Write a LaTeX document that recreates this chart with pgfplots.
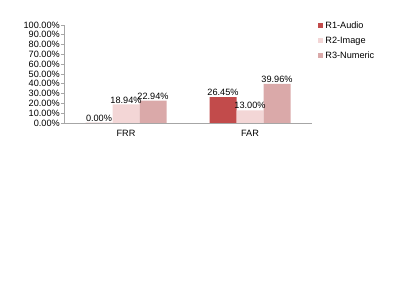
\documentclass[border=0pt]{standalone}
\usepackage{pgfplots}
\pgfplotsset{compat=1.18}
\usepackage{fontspec}
\setmainfont{Liberation Sans}
\definecolor{rA}{HTML}{C24B4B}
\definecolor{rB}{HTML}{F3D6D6}
\definecolor{rC}{HTML}{DAA9A9}
\definecolor{axgray}{HTML}{A6A6A6}
\begin{document}
\begin{tikzpicture}
\path[use as bounding box] (0,0) rectangle (399bp,308bp);
\begin{axis}[
  at={(64bp,185bp)}, anchor=south west,
  scale only axis, width=248bp, height=98bp,
  ybar=0pt, bar width=27bp,
  xmin=-0.5, xmax=1.5, ymin=0, ymax=100,
  axis x line*=bottom, axis y line*=left,
  axis line style={axgray, line width=0.6pt},
  xtick={0,1}, xticklabels={FRR,FAR},
  x tick style={draw=none},
  extra x ticks={-0.5,0.5,1.5}, extra x tick labels={},
  extra x tick style={tick style={draw=axgray, line width=0.6pt}, major tick length=3bp, tick align=outside},
  ytick={0,10,...,100},
  y tick style={draw=axgray, line width=0.6pt}, major tick length=3bp, tick align=outside,
  yticklabel={\pgfmathprintnumber[fixed,fixed zerofill,precision=2]{\tick}\%},
  /pgf/number format/assume math mode=true,
  ticklabel style={font=\fontsize{9.2}{10}\selectfont, text=black},
  yticklabel style={xshift=0bp, inner sep=1bp},
  xticklabel style={yshift=-1bp},
  nodes near coords={\pgfmathprintnumber[fixed,fixed zerofill,precision=2]{\pgfplotspointmeta}\%},
  every node near coord/.append style={font=\fontsize{9.2}{10}\selectfont, text=black, inner sep=1bp},
  legend style={at={(1.025,1.055)}, anchor=north west, draw=none, fill=none,
    font=\fontsize{9.2}{10}\selectfont, row sep=2.8bp, inner sep=0pt},
  legend cell align=left,
  legend image code/.code={\fill[#1] (0bp,-2.5bp) rectangle (5bp,2.5bp);},
]
\addplot[fill=rA, draw=none] coordinates {(0,0) (1,26.45)};
\addplot[fill=rB, draw=none] coordinates {(0,18.94) (1,13.00)};
\addplot[fill=rC, draw=none] coordinates {(0,22.94) (1,39.96)};
\legend{R1-Audio,R2-Image,R3-Numeric}
\end{axis}
\end{tikzpicture}
\end{document}
